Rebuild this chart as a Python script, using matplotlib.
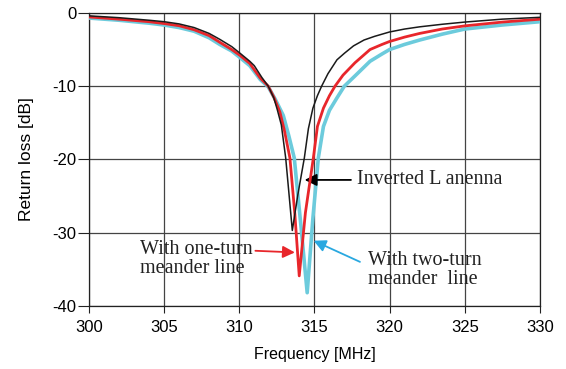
import matplotlib.pyplot as plt

# Inverted L antenna (black)
freq_l = [300, 302, 304, 305, 306, 307, 308, 308.7, 309.5, 310.05, 310.7, 311.0,
          311.5, 311.93, 312.3, 312.53, 312.8, 313.09, 313.3, 313.53, 313.9,
          314.33, 314.6, 314.9, 315.2, 315.48, 315.9, 316.5, 317.0, 317.6,
          318.3, 319.0, 320, 321, 322, 323.5, 325, 327.5, 330]
rl_l = [-0.4, -0.65, -1.0, -1.2, -1.5, -2.0, -2.8, -3.6, -4.6, -5.5, -6.6, -7.2,
        -8.8, -10.0, -11.6, -13.2, -15.3, -19.8, -24.5, -29.7, -24.8,
        -19.8, -15.8, -13.0, -11.3, -10.0, -8.3, -6.4, -5.5, -4.5,
        -3.7, -3.2, -2.6, -2.2, -1.9, -1.55, -1.25, -0.85, -0.6]

# With one-turn meander line (red)
freq_one = [300, 302, 304, 305, 306, 307, 308, 308.7, 309.5, 310.05, 310.7,
            311.4, 311.93, 312.3, 312.7, 313.0, 313.37, 313.7, 313.99, 314.4,
            314.93, 315.2, 315.6, 316.0, 316.37, 316.9, 317.7, 318.7, 319.5,
            320, 321, 322, 323.5, 325, 327.5, 330]
rl_one = [-0.55, -0.85, -1.2, -1.45, -1.75, -2.3, -3.1, -4.0, -5.0, -5.8, -6.9,
          -8.9, -10.0, -11.5, -13.5, -16.0, -19.8, -27.5, -35.9, -27.3,
          -19.8, -15.5, -13.0, -11.3, -10.0, -8.5, -6.8, -5.0, -4.3,
          -3.9, -3.3, -2.8, -2.2, -1.77, -1.25, -0.86]

# With two-turn meander line (cyan)
freq_two = [300, 302, 304, 305, 306, 307, 308, 308.7, 309.5, 310.05, 310.7,
            311.4, 311.93, 312.4, 312.93, 313.3, 313.66, 314.1, 314.52, 314.9,
            315.26, 315.6, 316.0, 316.5, 316.99, 317.7, 318.7, 319.5, 320,
            321, 322, 323.5, 325, 327.5, 330]
rl_two = [-0.7, -1.0, -1.4, -1.65, -2.0, -2.5, -3.4, -4.3, -5.2, -6.1, -7.2,
          -9.1, -10.1, -11.8, -14.0, -16.8, -19.8, -29.0, -38.2, -28.0,
          -19.8, -15.5, -13.3, -11.6, -10.0, -8.6, -6.6, -5.6, -5.0,
          -4.3, -3.7, -2.9, -2.2, -1.65, -1.2]

xticks = [300, 305, 310, 315, 320, 325, 330]
yticks = [0, -10, -20, -30, -40]

plt.rcParams['font.family'] = ['Liberation Sans', 'DejaVu Sans']
plt.rcParams['axes.unicode_minus'] = False

fig = plt.figure(figsize=(5.66, 3.69), dpi=100)
ax = fig.add_axes([0.157, 0.171, 0.797, 0.794])

ax.plot(freq_two, rl_two, color='#6ccbdc', lw=2.6, zorder=3)
ax.plot(freq_one, rl_one, color='#e8262b', lw=2.0, zorder=4)
ax.plot(freq_l, rl_l, color='#1a1a1a', lw=1.1, zorder=5)

ax.set_xlim(300, 330)
ax.set_ylim(-40, 0)
ax.set_xticks(xticks)
ax.set_yticks(yticks)
ax.grid(True, color='#444444', lw=0.9)
ax.set_axisbelow(True)
for s in ax.spines.values():
    s.set_color('#222222')
    s.set_linewidth(0.9)

ax.tick_params(axis='y', length=8, pad=1, labelsize=12, color='#222222')
ax.tick_params(axis='x', length=5, pad=5, labelsize=12, color='#222222')
ax.set_xlabel('Frequency [MHz]', fontsize=11.5, labelpad=9)
ax.set_ylabel('Return loss [dB]', fontsize=12.5, labelpad=13)

serif = ['Liberation Serif', 'DejaVu Serif']
ax.annotate('Inverted L anenna', xy=(314.35, -22.8), xytext=(317.8, -22.8),
            fontsize=14.5, family=serif, va='center', ha='left', color='#222222',
            arrowprops=dict(arrowstyle='-|>', color='black', lw=1.3,
                            mutation_scale=18, shrinkA=2, shrinkB=0))
ax.annotate('With one-turn\nmeander line', xy=(313.7, -32.7), xytext=(303.4, -33.6),
            fontsize=14.5, family=serif, va='center', ha='left', color='#222222',
            linespacing=1.0,
            arrowprops=dict(arrowstyle='-|>', color='#e8262b', lw=1.3,
                            mutation_scale=18, shrinkA=0, shrinkB=0,
                            relpos=(1.0, 0.72)))
ax.annotate('With two-turn\nmeander  line', xy=(314.95, -31.1), xytext=(318.55, -35.1),
            fontsize=14.5, family=serif, va='center', ha='left', color='#222222',
            linespacing=1.0,
            arrowprops=dict(arrowstyle='-|>', color='#29a8e0', lw=1.3,
                            mutation_scale=18, shrinkA=4, shrinkB=0,
                            relpos=(0.0, 0.62)))

fig.savefig('out.png', dpi=100)
